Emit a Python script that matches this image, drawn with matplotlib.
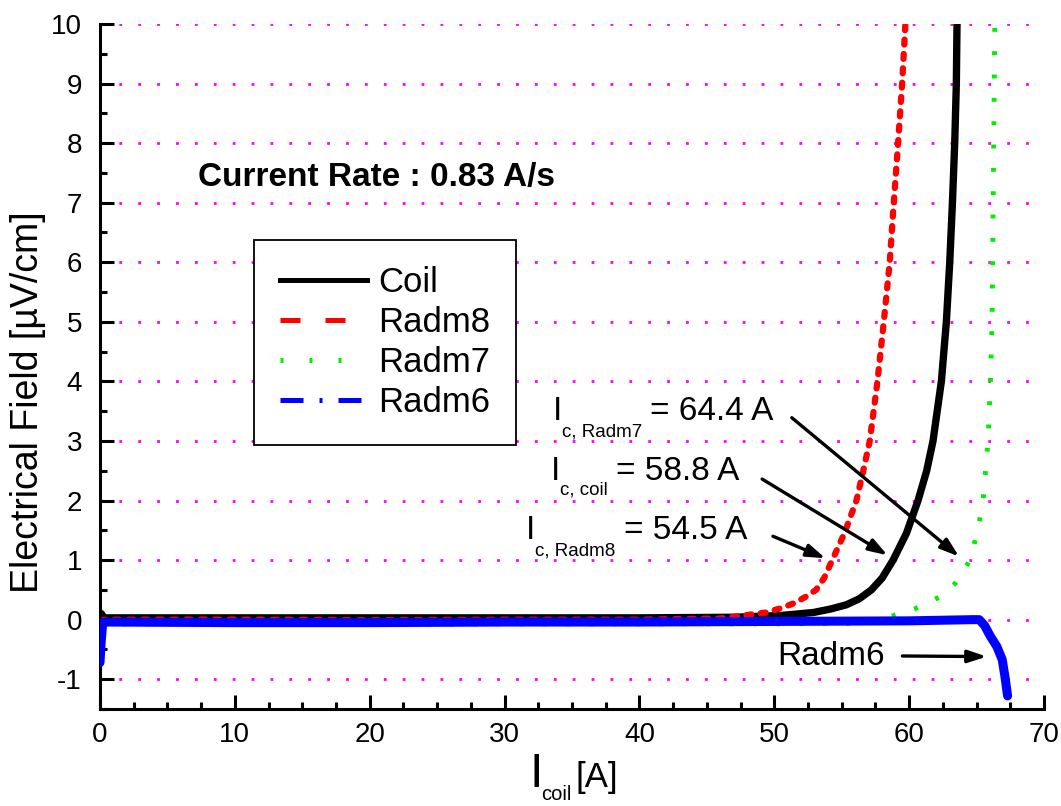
"""
Critical current curves (E-I) of the coil and the Radm segments.
"""
import matplotlib
matplotlib.use("Agg")
import matplotlib.pyplot as plt
from matplotlib.lines import Line2D
from matplotlib.ticker import MultipleLocator

plt.rcParams['font.family'] = ['Liberation Sans', 'DejaVu Sans']
plt.rcParams['axes.unicode_minus'] = False

# values (I in A, E in uV/cm)
coil_i = [0.0, 0.1, 0.3, 10, 20, 30, 40, 47, 50.5, 52.9, 54.2, 55.35, 56.3, 57.2,
          58.0, 58.81, 59.8, 60.66, 61.3, 61.77, 62.39, 62.76, 63.01, 63.21,
          63.38, 63.5, 63.55, 63.6]
coil_e = [0.05, 0.1, 0.03, 0.03, 0.03, 0.03, 0.03, 0.04, 0.07, 0.12, 0.18, 0.25, 0.35, 0.5,
          0.7, 1.0, 1.45, 2.0, 2.5, 3.0, 4.0, 5.0, 6.0, 7.0,
          8.0, 9.0, 10.0, 10.5]

radm8_i = [0.0, 0.1, 0.3, 10, 20, 30, 40, 46, 49.4, 50.6, 51.5, 52.3, 53.1, 53.7,
           54.3, 55.2, 56.09, 56.6, 57.08, 57.65, 58.12, 58.56, 58.86, 59.18,
           59.48, 59.72, 59.8]
radm8_e = [-0.55, -0.3, 0.0, 0.0, -0.01, 0.0, 0.0, 0.02, 0.12, 0.2, 0.28, 0.38, 0.5, 0.7,
           1.0, 1.45, 2.0, 2.5, 3.0, 4.0, 5.0, 6.0, 7.0, 8.0,
           9.0, 10.0, 10.5]

radm7_i = [0.0, 0.3, 10, 20, 30, 40, 50, 57, 59.3, 60.4, 61.4, 62.4, 63.2, 63.9, 64.49,
           65.1, 65.48, 65.85, 66.03, 66.15, 66.25, 66.35, 66.4]
radm7_e = [-0.1, -0.07, -0.07, -0.08, -0.07, -0.07, -0.07, -0.06, 0.1, 0.18, 0.28, 0.4,
           0.55, 0.75, 1.0, 1.5, 2.0, 3.0, 4.0, 5.0, 7.5, 10.0, 10.5]

radm6_i = [0.0, 0.08, 0.2, 0.4, 10, 20, 30, 40, 50, 60, 64.7, 65.2,
           65.6, 66.0, 66.5, 66.9, 67.1, 67.3]
radm6_e = [-0.72, -0.4, -0.05, -0.04, -0.05, -0.05, -0.04, -0.04, -0.03, -0.02, 0.0, 0.0,
           -0.1, -0.27, -0.45, -0.67, -0.95, -1.28]

labels = ["Coil", "Radm8", "Radm7", "Radm6"]

fig = plt.figure(figsize=(10.61, 8.06), dpi=100)
ax = fig.add_axes([100 / 1061, 97 / 806, 944 / 1061, 685 / 806])

ax.plot(coil_i, coil_e, color='black', lw=5.3, solid_capstyle='butt', zorder=3)
ax.plot(radm8_i, radm8_e, color='red', lw=4.5, dashes=(0.8, 1.5),
        dash_capstyle='round', zorder=3)
ax.plot(radm7_i, radm7_e, color='#00ee00', lw=3.5, dashes=(0.8, 4.0),
        dash_capstyle='butt', zorder=3)
ax.plot(radm6_i, radm6_e, color='blue', lw=6.5, solid_capstyle='round', zorder=3)

ax.set_xlim(0, 70)
ax.set_ylim(-1.5, 10)
ax.xaxis.set_major_locator(MultipleLocator(10))
ax.xaxis.set_minor_locator(MultipleLocator(2.5))
ax.yaxis.set_major_locator(MultipleLocator(1))
ax.yaxis.set_minor_locator(MultipleLocator(0.5))

ax.spines['top'].set_visible(False)
ax.spines['right'].set_visible(False)
for s in ['left', 'bottom']:
    ax.spines[s].set_linewidth(2.2)
ax.tick_params(which='major', direction='in', length=10, width=2.2, labelsize=20)
ax.tick_params(which='minor', direction='in', length=5, width=2.2)
ax.tick_params(axis='y', pad=13)
ax.tick_params(axis='x', pad=9)

ax.yaxis.grid(True, which='major', color='magenta', lw=2,
              linestyle=(0, (1, 5.8)), zorder=0)
ax.set_axisbelow(True)


def chain_text(x, y, parts, coords):
    """ Write pieces of text one after the other: (text, size, drop, gap),
    drop is measured from the baseline of the first piece """
    first, size, drop, gap = parts[0]
    prev = ax.annotate(first, xy=(x, y), xycoords=coords, fontsize=size,
                       ha='left', va='baseline', annotation_clip=False)
    for txt, size, drop, gap in parts[1:]:
        prev = ax.annotate(txt, xy=(1, y), xycoords=(prev, coords),
                           xytext=(gap, -drop), textcoords='offset points',
                           fontsize=size, ha='left', va='baseline',
                           annotation_clip=False)


fig.text(28 / 1061, 1 - 402 / 806, "Electrical Field [µV/cm]", fontsize=27,
         rotation=90, ha='center', va='center')
chain_text(530 / 1061, 19 / 806,
           [("I", 35, 0, 0), ("coil", 14.5, 9, -1.5), ("[A]", 25, 0, 3)],
           'figure fraction')

ax.text(7.3, 7.28, "Current Rate : 0.83 A/s", fontsize=24, fontweight='bold')

# Ic annotations
chain_text(33.55, 3.36, [("I", 24, 0, 0), ("c, Radm7", 13.5, 12, 0), ("= 64.4 A", 24, 0, 6)], 'data')
chain_text(33.45, 2.35, [("I", 24, 0, 0), ("c, coil", 13.5, 11, 0), ("= 58.8 A", 24, 0, 6)], 'data')
chain_text(31.6, 1.35, [("I", 24, 0, 0), ("c, Radm8", 13.5, 11.5, 0), ("= 54.5 A", 24, 0, 6)], 'data')
ax.text(50.2, -0.76, "Radm6", fontsize=24)

arrow_tails = [(51.3, 3.39), (49.1, 2.36), (49.9, 1.40), (59.5, -0.61)]
arrow_heads = [(63.7, 1.06), (58.4, 1.08), (53.8, 1.03), (65.75, -0.62)]
for tail, head in zip(arrow_tails, arrow_heads):
    ax.annotate("", xy=head, xytext=tail,
                arrowprops=dict(arrowstyle='-|>,head_length=0.75,head_width=0.25',
                                color='black', lw=2.4, mutation_scale=15,
                                shrinkA=0, shrinkB=0))

handles = [
    Line2D([], [], color='black', lw=3.6),
    Line2D([], [], color='red', lw=3.6, dashes=(4, 5), dash_capstyle='butt'),
    Line2D([], [], color='#00ee00', lw=3.6, dashes=(0.6, 5.2), dash_capstyle='butt'),
    Line2D([], [], color='blue', lw=3.6, dashes=(4.6, 3.2, 0.6, 3.2), dash_capstyle='butt'),
]
leg = ax.legend(handles, labels, loc='upper left',
                bbox_to_anchor=(254 / 1061, 1 - 240 / 806),
                bbox_transform=fig.transFigure, fontsize=25, frameon=True,
                fancybox=False, edgecolor='black', framealpha=1,
                handlelength=2.5, handletextpad=0.32, labelspacing=0.2,
                borderpad=0.75, borderaxespad=0)
leg.get_frame().set_linewidth(1.3)

fig.savefig("out.png", dpi=100)
